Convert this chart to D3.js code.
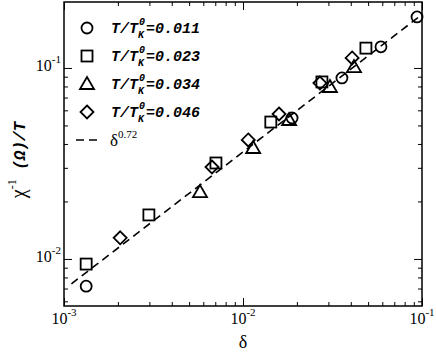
<!DOCTYPE html>
<html>
<head>
<meta charset="utf-8">
<script src="https://d3js.org/d3.v7.min.js"></script>
<style>
  body { margin: 0; background: #fff; }
  .serif { font-family: "Liberation Serif", "DejaVu Serif", serif; }
  .mono { font-family: "Liberation Mono", "DejaVu Sans Mono", monospace; font-weight: bold; font-style: italic; }
</style>
</head>
<body>
<div id="chart"></div>
<script>
// series: delta (x) and chi^-1(Omega)/T (y)
var circX = [0.00133, 0.0188, 0.0357, 0.059, 0.0938];
var circY = [0.0072, 0.0547, 0.0887, 0.129, 0.185];

var sqX = [0.00133, 0.00298, 0.00706, 0.0143, 0.0276, 0.0486];
var sqY = [0.0094, 0.0170, 0.0318, 0.0521, 0.0845, 0.127];

var triX = [0.00575, 0.0114, 0.0181, 0.0306, 0.0417];
var triY = [0.0224, 0.0381, 0.0534, 0.0795, 0.101];

var diaX = [0.00206, 0.00671, 0.0107, 0.0159, 0.0269, 0.0407];
var diaY = [0.0129, 0.0303, 0.0420, 0.0574, 0.0834, 0.1128];

var seriesNames = ["0.011", "0.023", "0.034", "0.046"];
var fitExponent = 0.72;
var fitRange = [0.0011, 0.1];

var xMajor = [1e-3, 1e-2, 1e-1];
var xMajorExp = ["-3", "-2", "-1"];
var xMinor = [2e-3,3e-3,4e-3,5e-3,6e-3,7e-3,8e-3,9e-3,2e-2,3e-2,4e-2,5e-2,6e-2,7e-2,8e-2,9e-2];
var yMajor = [1e-2, 1e-1];
var yMajorExp = ["-2", "-1"];
var yMinor = [6e-3,7e-3,8e-3,9e-3,2e-2,3e-2,4e-2,5e-2,6e-2,7e-2,8e-2,9e-2];

var W = 436, H = 354;
var pL = 64, pR = 422, pT = 2, pB = 306;

var svg = d3.select("#chart").append("svg")
  .attr("width", W).attr("height", H);

var x = d3.scaleLog().domain([1e-3, 1e-1]).range([pL, pR]);
var y = d3.scaleLog().domain([0.00567, 0.2215]).range([pB, pT]);

// ticks, all pointing inward, on all four sides
function ticks(axis, vals, size, tr) {
  var g = svg.append("g").attr("transform", tr)
    .call(axis.tickValues(vals).tickSize(size).tickFormat(""));
  g.select(".domain").remove();
  g.selectAll("line").attr("stroke", "#000").attr("stroke-width", 1);
}
ticks(d3.axisBottom(x), xMajor, -8, "translate(0," + pB + ")");
ticks(d3.axisBottom(x), xMinor, -4, "translate(0," + pB + ")");
ticks(d3.axisTop(x), xMajor, -8, "translate(0," + pT + ")");
ticks(d3.axisTop(x), xMinor, -4, "translate(0," + pT + ")");
ticks(d3.axisLeft(y), yMajor, -8, "translate(" + pL + ",0)");
ticks(d3.axisLeft(y), yMinor, -4, "translate(" + pL + ",0)");
ticks(d3.axisRight(y), yMajor, -8, "translate(" + pR + ",0)");
ticks(d3.axisRight(y), yMinor, -4, "translate(" + pR + ",0)");

svg.append("rect")
  .attr("x", pL).attr("y", pT)
  .attr("width", pR - pL).attr("height", pB - pT)
  .attr("fill", "none").attr("stroke", "#000").attr("stroke-width", 1.5);

// tick labels
xMajor.forEach(function(v, i) {
  var t = svg.append("text").attr("class", "serif")
    .attr("x", x(v)).attr("y", 324)
    .attr("text-anchor", "middle").attr("font-size", 16);
  t.append("tspan").text("10");
  t.append("tspan").attr("dy", -8).attr("font-size", 11).text(xMajorExp[i]);
});
yMajor.forEach(function(v, i) {
  var t = svg.append("text").attr("class", "serif")
    .attr("x", 61).attr("y", y(v) + 3)
    .attr("text-anchor", "end").attr("font-size", 16);
  t.append("tspan").text("10");
  t.append("tspan").attr("dy", -8).attr("font-size", 11).text(yMajorExp[i]);
});

// axis titles
svg.append("text").attr("class", "serif")
  .attr("x", x(1e-2)).attr("y", 348)
  .attr("text-anchor", "middle").attr("font-size", 18).text("δ");

var yt = svg.append("text")
  .attr("transform", "translate(25,160) rotate(-90)")
  .attr("text-anchor", "middle");
yt.append("tspan").attr("class", "serif").attr("font-size", 20).text("χ");
yt.append("tspan").attr("class", "serif").attr("font-size", 12).attr("dy", -9).text("-1");
yt.append("tspan").attr("class", "mono").attr("font-size", 16).attr("dy", 9).text(" (Ω)/T");

// fit line delta^0.72
var fit = d3.line().x(function(d) { return x(d); }).y(function(d) { return y(Math.pow(d, fitExponent)); });
svg.append("path")
  .attr("d", fit(fitRange))
  .attr("fill", "none").attr("stroke", "#000")
  .attr("stroke-width", 1.6).attr("stroke-dasharray", "8,5");

// marker shapes
var shapes = [
  function(g) { g.append("circle").attr("r", 5.5); },
  function(g) { g.append("rect").attr("x", -5.5).attr("y", -5.5).attr("width", 11).attr("height", 11); },
  function(g) { g.append("path").attr("d", "M0,-7L7,5L-7,5Z"); },
  function(g) { g.append("path").attr("d", "M0,-6.5L6.5,0L0,6.5L-6.5,0Z"); }
];
var seriesX = [circX, sqX, triX, diaX];
var seriesY = [circY, sqY, triY, diaY];

seriesX.forEach(function(xs, s) {
  var pts = xs.map(function(v, i) { return [v, seriesY[s][i]]; });
  svg.append("g").selectAll("g")
    .data(pts).enter().append("g")
      .attr("transform", function(d) { return "translate(" + x(d[0]) + "," + y(d[1]) + ")"; })
      .each(function() { shapes[s](d3.select(this)); })
    .selectAll("*")
      .attr("fill", "none").attr("stroke", "#000").attr("stroke-width", 1.8);
});

// legend
var legY = [28, 56, 84, 112];
seriesNames.forEach(function(name, s) {
  var g = svg.append("g").attr("transform", "translate(87," + legY[s] + ")");
  shapes[s](g);
  g.selectAll("*").attr("fill", "none").attr("stroke", "#000").attr("stroke-width", 1.8);

  var base = legY[s] + 5;
  svg.append("text").attr("class", "mono").attr("x", 111).attr("y", base)
    .attr("font-size", 15).text("T/T");
  svg.append("text").attr("class", "mono").attr("x", 139).attr("y", base - 8)
    .attr("font-size", 10).text("0");
  svg.append("text").attr("class", "mono").attr("x", 138).attr("y", base + 5)
    .attr("font-size", 10).text("K");
  svg.append("text").attr("class", "mono").attr("x", 146).attr("y", base)
    .attr("font-size", 15).text("=" + name);
});

svg.append("line")
  .attr("x1", 76).attr("x2", 100).attr("y1", 140).attr("y2", 140)
  .attr("stroke", "#000").attr("stroke-width", 1.6).attr("stroke-dasharray", "8,5");
var lt = svg.append("text").attr("class", "serif").attr("x", 110).attr("y", 146)
  .attr("font-size", 17);
lt.append("tspan").text("δ");
lt.append("tspan").attr("font-size", 11).attr("dy", -8).text(fitExponent.toFixed(2));
</script>
</body>
</html>
